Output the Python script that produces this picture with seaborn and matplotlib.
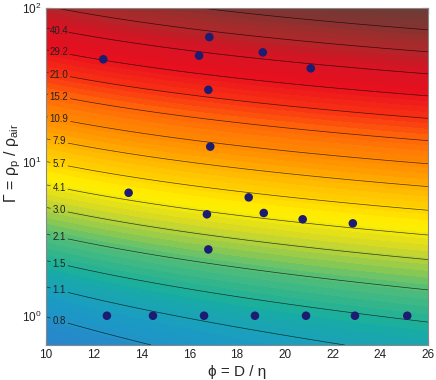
import numpy as np
import matplotlib
matplotlib.use("Agg")
import matplotlib.pyplot as plt
import seaborn as sns
from matplotlib.colors import LinearSegmentedColormap, LogNorm

# Measured points (phi = D / eta, Gamma = rho_p / rho_air)
phi_pts = [12.40, 16.84, 16.41, 16.80, 19.08, 21.09, 16.88, 18.49, 16.74, 19.12,
           20.75, 22.85, 16.80, 13.46, 12.55, 14.48, 16.62, 18.75, 20.89, 22.94, 25.13]
gamma_pts = [46.6, 65.0, 49.2, 29.5, 51.7, 40.7, 12.6, 5.89, 4.57, 4.66,
             4.24, 3.99, 2.70, 6.31, 1.0, 1.0, 1.0, 1.0, 1.0, 1.0, 1.0]

# Contour levels as labelled on the chart (last two are unlabelled lines)
levels = [0.8, 1.1, 1.5, 2.1, 3.0, 4.1, 5.7, 7.9, 10.9, 15.2, 21.0, 29.2, 40.4, 56.0, 77.7]
labelled = levels[:13]

# Background field Z = k * (Gamma + g0) * phi**b, constants fitted to the contour lines
k_coef = 0.1043
g0 = 0.5
b_exp = 0.713

# Axis ranges
phi_lim = (10, 26)
gamma_lim = (0.645, 100)

# Colour map anchors (position in log Z, colour)
cmap_pos = [0.0, 0.09, 0.16, 0.23, 0.29, 0.34, 0.39, 0.46, 0.54, 0.62,
            0.69, 0.76, 0.83, 0.89, 0.95, 1.0]
cmap_col = ["#2a84cc", "#1a9cc4", "#18ae9e", "#4cbc7c", "#9ccc48", "#dcdc20",
            "#fff000", "#ffc400", "#ff9400", "#ff6a08", "#f83014", "#e8101e",
            "#d41424", "#a82a2a", "#823432", "#6c3c36"]

sns.set_style("ticks")
plt.rcParams["font.family"] = ["Liberation Sans", "DejaVu Sans"]
plt.rcParams["mathtext.default"] = "regular"

fig = plt.figure(figsize=(4.36, 3.80), dpi=100)
ax = fig.add_axes([0.1055, 0.0921, 0.8762, 0.886])

P, G = np.meshgrid(np.linspace(*phi_lim, 300), np.geomspace(*gamma_lim, 300))
Z = k_coef * (G + g0) * P ** b_exp
zmin, zmax = Z.min(), Z.max()

cmap = LinearSegmentedColormap.from_list("field", list(zip(cmap_pos, cmap_col)))
ax.contourf(P, G, Z, levels=np.geomspace(zmin, zmax, 65), cmap=cmap,
            norm=LogNorm(zmin, zmax))
cs = ax.contour(P, G, Z, levels=levels, colors="k", linewidths=0.5, alpha=0.7)

# label positions near the left edge
lab_phi = 10.55
lab_pos = [(lab_phi, z / (k_coef * lab_phi ** b_exp) - g0) for z in labelled]
cl = ax.clabel(cs, levels=labelled, manual=lab_pos, inline=True, inline_spacing=2,
               fmt="%.1f", fontsize=7)
for t in cl:
    t.set_color("#222222")
    t.set_rotation(0)

sns.scatterplot(x=phi_pts, y=gamma_pts, ax=ax, color="#1c1c72", s=38,
                edgecolor="none", zorder=5, legend=False)

ax.set_yscale("log")
ax.set_xlim(*phi_lim)
ax.set_ylim(*gamma_lim)
ax.set_xticks(range(10, 27, 2))
ax.grid(True, which="both", ls=":", color="0.6", lw=0.5, alpha=0.5)
ax.tick_params(which="both", direction="in", top=True, right=True, labelsize=8.5,
               colors="#222222", pad=3)
ax.tick_params(which="major", length=4)
ax.tick_params(which="minor", length=2)
for s in ax.spines.values():
    s.set_color("#888888")
    s.set_linewidth(0.8)

ax.set_xlabel("ϕ = D / η", fontsize=11, labelpad=3)
ax.set_ylabel("Γ = ρ$_p$ / ρ$_{air}$", fontsize=11.5)
ax.yaxis.set_label_coords(-0.06, 0.54)

fig.savefig("out.png", dpi=100)
